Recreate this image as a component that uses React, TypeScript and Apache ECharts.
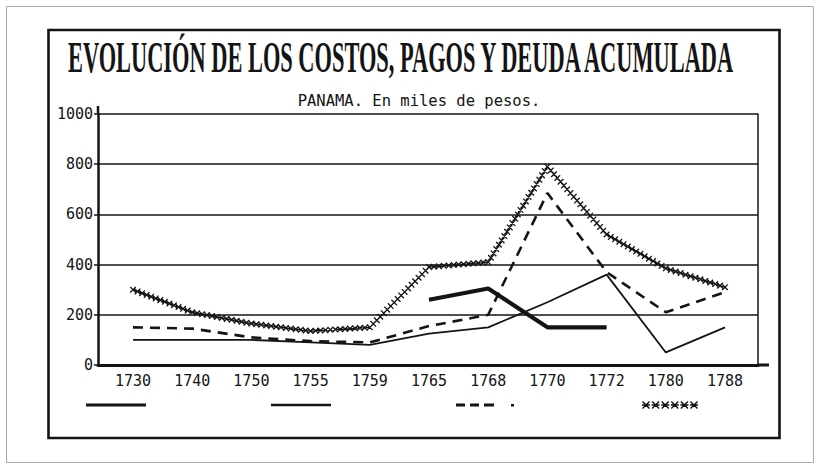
import React, { useEffect, useRef } from 'react';
import * as echarts from 'echarts';

const TITLE = 'EVOLUCIÓN DE LOS COSTOS, PAGOS Y DEUDA ACUMULADA';
const SUBTITLE = 'PANAMA. En miles de pesos.';
const years = ['1730', '1740', '1750', '1755', '1759', '1765', '1768', '1770', '1772', '1780', '1788'];
const yTickValues = [0, 200, 400, 600, 800, 1000];
const seriesNames = ['Pagos', 'Costos', 'Deuda', 'Deuda acumulada'];
const thickSolid: (number | null)[] = [null, null, null, null, null, 260, 305, 150, 150, null, null];
const thinSolid = [100, 100, 100, 90, 80, 125, 150, 250, 360, 50, 150];
const dashed = [150, 145, 110, 95, 90, 155, 200, 685, 370, 210, 290];
const crosses = [300, 210, 165, 135, 150, 390, 410, 790, 520, 385, 310];

const INK = '#141414';
const MONO = '"DejaVu Sans Mono", "Liberation Mono", monospace';

const boxMarks = 'M0,0L0,0ZM60,12L60,12Z';
const iconThick = boxMarks + 'M0,4.4H61V7.6H0Z';
const iconThin = boxMarks + 'M0,4.7H60V7.3H0Z';
const iconDash = boxMarks + 'M0,4.6H9V7.4H0ZM14,4.6H23V7.4H14ZM28,4.6H38V7.4H28ZM55,5H58V7.6H55Z';
function starsIcon() {
  let d = boxMarks;
  for (let k = 0; k < 6; k++) {
    const cx = 5 + k * 9.6;
    const cy = 6;
    d += `M${cx - 4},${cy - 3}L${cx - 3},${cy - 4}L${cx + 4},${cy + 3}L${cx + 3},${cy + 4}Z`;
    d += `M${cx + 3},${cy - 4}L${cx + 4},${cy - 3}L${cx - 3},${cy + 4}L${cx - 4},${cy + 3}Z`;
    d += `M${cx - 4},${cy - 0.7}L${cx + 4},${cy - 0.7}L${cx + 4},${cy + 0.7}L${cx - 4},${cy + 0.7}Z`;
  }
  return d;
}

export default function App() {
  const ref = useRef<HTMLDivElement>(null);

  useEffect(() => {
    if (!ref.current) return;
    const chart = echarts.init(ref.current, null, { renderer: 'svg' });

    const titleFont = 'bold 44px "Liberation Serif"';
    let titleScale = 0.52;
    try {
      const ctx = document.createElement('canvas').getContext('2d');
      if (ctx) {
        ctx.font = titleFont;
        const w = ctx.measureText(TITLE).width;
        if (w > 0) titleScale = 670 / w;
      }
    } catch (e) {}

    const toPairs = (arr: (number | null)[]) =>
      arr.map((v, i) => [i, v]).filter((p) => p[1] != null);

    const markHalf = 2.8;
    const mark = (x: number, y: number) =>
      `M${x - markHalf},${y - markHalf}L${x + markHalf},${y + markHalf}M${x + markHalf},${y - markHalf}L${x - markHalf},${y + markHalf}`;

    chart.setOption({
      animation: false,
      backgroundColor: '#ffffff',
      color: [INK],
      grid: { left: 98, right: 62, top: 114, bottom: 104, containLabel: false },
      xAxis: {
        type: 'value',
        min: -0.591,
        max: 10.557,
        axisLine: { show: true, onZero: false, lineStyle: { color: INK, width: 3 } },
        axisTick: { show: false },
        splitLine: { show: false },
        axisLabel: {
          customValues: years.map((_, i) => i),
          formatter: (v: number) => years[Math.round(v)] ?? '',
          fontFamily: MONO,
          fontSize: 15,
          color: INK,
          margin: 8,
        },
      },
      yAxis: [
        {
          type: 'value',
          min: 0,
          max: 1000,
          interval: 200,
          axisLine: { show: true, onZero: false, lineStyle: { color: INK, width: 2.5 } },
          axisTick: { show: true, length: 4, lineStyle: { color: INK, width: 1.5 } },
          splitLine: { show: true, lineStyle: { color: INK, width: 1.5 } },
          axisLabel: {
            customValues: yTickValues,
            formatter: (v: number) => String(v),
            fontFamily: MONO,
            fontSize: 15,
            color: INK,
            margin: 5,
          },
        },
        {
          type: 'value',
          position: 'right',
          min: 0,
          max: 1000,
          interval: 200,
          axisLine: { show: true, onZero: false, lineStyle: { color: INK, width: 1.5 } },
          axisTick: { show: false },
          splitLine: { show: false },
          axisLabel: { show: false },
        },
      ],
      legend: {
        left: 86,
        top: 399,
        padding: 0,
        itemWidth: 60,
        itemHeight: 12,
        itemGap: 125,
        selectedMode: false,
        formatter: () => '',
        itemStyle: { borderWidth: 0 },
        data: [
          { name: seriesNames[0], icon: 'path://' + iconThick },
          { name: seriesNames[1], icon: 'path://' + iconThin },
          { name: seriesNames[2], icon: 'path://' + iconDash },
          { name: seriesNames[3], icon: 'path://' + starsIcon() },
        ],
      },
      graphic: [
        {
          type: 'rect',
          shape: { x: 6.5, y: 6.5, width: 807, height: 456 },
          style: { fill: 'none', stroke: '#a8a8a8', lineWidth: 1 },
          silent: true,
        },
        {
          type: 'rect',
          shape: { x: 48.5, y: 30, width: 731, height: 408 },
          style: { fill: 'none', stroke: INK, lineWidth: 2.6 },
          silent: true,
        },
        {
          type: 'text',
          x: 68,
          y: 58,
          scaleX: titleScale,
          style: {
            text: TITLE,
            font: titleFont,
            fill: INK,
            textAlign: 'left',
            textVerticalAlign: 'middle',
            align: 'left',
            verticalAlign: 'middle',
          },
        },
        {
          type: 'text',
          x: 419,
          y: 101,
          style: {
            text: SUBTITLE,
            font: '15.5px "DejaVu Sans Mono"',
            fill: INK,
            textAlign: 'center',
            textVerticalAlign: 'middle',
            align: 'center',
            verticalAlign: 'middle',
          },
        },
        {
          type: 'line',
          shape: { x1: 758, y1: 365, x2: 769, y2: 365 },
          style: { stroke: INK, lineWidth: 3 },
          silent: true,
        },
        {
          type: 'line',
          shape: { x1: 98, y1: 106, x2: 98, y2: 114 },
          style: { stroke: INK, lineWidth: 2.5 },
          silent: true,
        },
      ],
      series: [
        {
          name: seriesNames[0],
          type: 'line',
          data: toPairs(thickSolid),
          symbol: 'none',
          itemStyle: { color: INK },
          lineStyle: { color: INK, width: 4.2 },
          z: 4,
        },
        {
          name: seriesNames[1],
          type: 'line',
          data: toPairs(thinSolid),
          symbol: 'none',
          itemStyle: { color: INK },
          lineStyle: { color: INK, width: 1.8 },
          z: 3,
        },
        {
          name: seriesNames[2],
          type: 'line',
          data: toPairs(dashed),
          symbol: 'none',
          itemStyle: { color: INK },
          lineStyle: { color: INK, width: 2.6, type: [10, 7] },
          z: 3,
        },
        {
          name: seriesNames[3],
          type: 'custom',
          coordinateSystem: 'cartesian2d',
          data: toPairs(crosses),
          encode: { x: 0, y: 1 },
          itemStyle: { color: INK },
          z: 5,
          renderItem: (params: any, api: any) => {
            const i = params.dataIndex;
            const p0 = api.coord([api.value(0), api.value(1)]);
            let d = '';
            if (i + 1 < crosses.length) {
              const p1 = api.coord([i + 1, crosses[i + 1]]);
              d += `M${p0[0]},${p0[1]}L${p1[0]},${p1[1]}`;
              const dx = p1[0] - p0[0];
              const dy = p1[1] - p0[1];
              const len = Math.hypot(dx, dy);
              const n = Math.max(1, Math.round(len / 5));
              for (let k = 0; k < n; k++) {
                const t = k / n;
                d += mark(p0[0] + dx * t, p0[1] + dy * t);
              }
            } else {
              d += mark(p0[0], p0[1]);
            }
            return {
              type: 'path',
              shape: { pathData: d },
              style: { stroke: INK, lineWidth: 1.3, fill: 'none' },
            };
          },
        },
      ],
    });

    return () => chart.dispose();
  }, []);

  return (
    <div
      ref={ref}
      style={{ position: 'fixed', left: 0, top: 0, width: 820, height: 469, background: '#fff' }}
    />
  );
}
